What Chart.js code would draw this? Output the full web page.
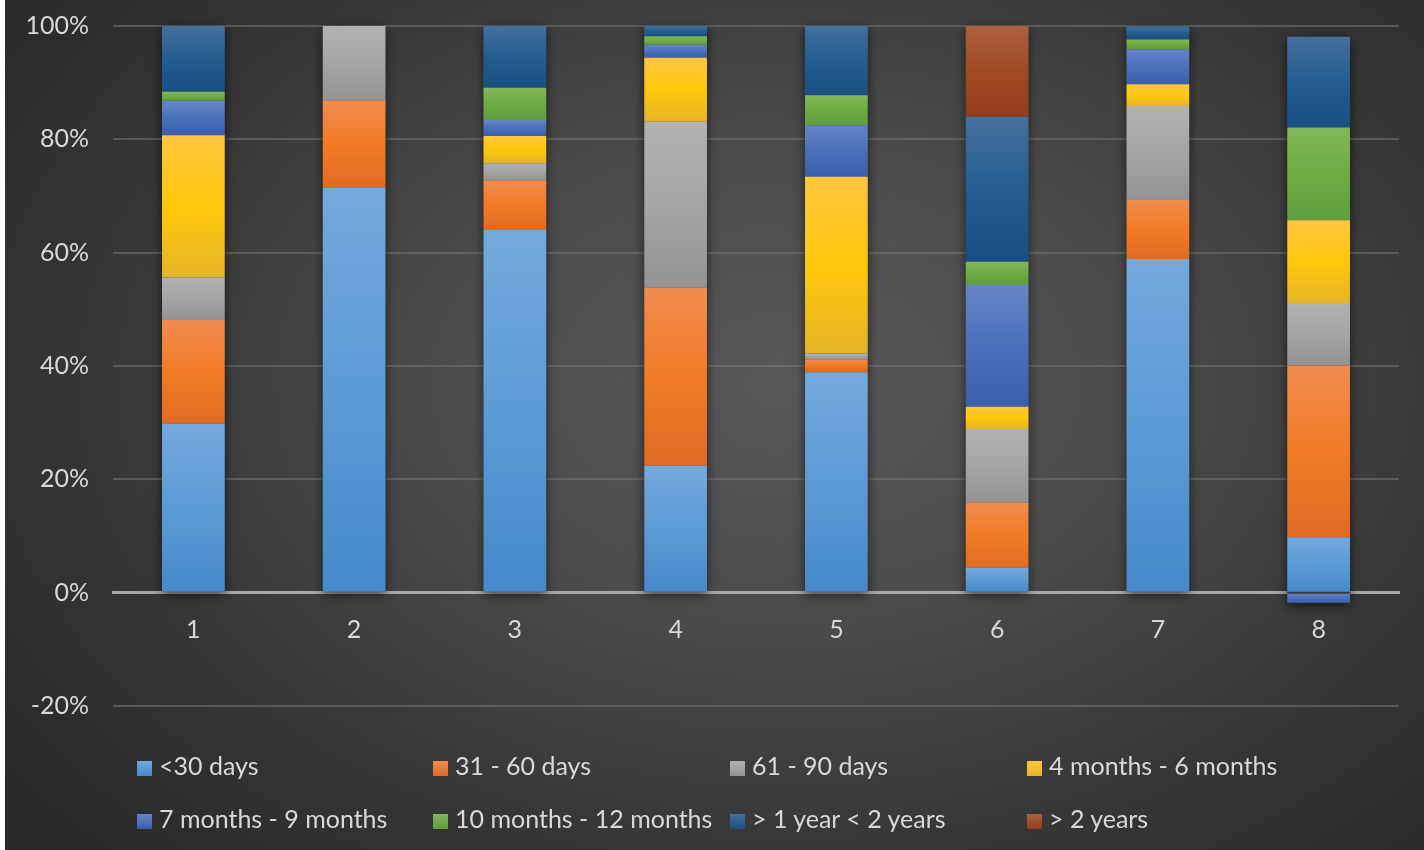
<!DOCTYPE html>
<html>
<head>
<meta charset="utf-8">
<script src="https://cdn.jsdelivr.net/npm/chart.js@4/dist/chart.umd.min.js"></script>
<style>
  html, body { margin: 0; padding: 0; background: #ffffff; }
  #wrap {
    position: absolute; left: 5px; top: 0; width: 1419px; height: 850px;
    background: radial-gradient(ellipse 70% 80% at 55% 45%, #585858 0%, #4b4b4b 35%, #333333 75%, #282828 100%);
    overflow: hidden;
  }
  #chart { position: absolute; left: 0; top: -13px; }
  .legend { position: absolute; font-family: Lato, sans-serif; font-size: 25px; color: #d9d9d9; white-space: nowrap; }
  .legend span.box { display: inline-block; width: 15px; height: 15px; margin-right: 7px; vertical-align: -1px; }
</style>
</head>
<body>
<div id="wrap">
  <canvas id="chart" width="1419" height="863"></canvas>
  <div id="legend"></div>
</div>
<script>
const categories = ["1", "2", "3", "4", "5", "6", "7", "8"];
const seriesNames = ["<30 days", "31 - 60 days", "61 - 90 days", "4 months - 6 months",
  "7 months - 9 months", "10 months - 12 months", "> 1 year < 2 years", "> 2 years"];

// percent of total
const under30 = [29.8, 71.4, 64.0, 22.4, 38.9, 4.4, 58.9, 9.8];
const days31to60 = [18.3, 15.5, 8.8, 31.4, 2.3, 11.5, 10.4, 30.3];
const days61to90 = [7.5, 13.1, 3.0, 29.3, 1.0, 13.0, 16.6, 11.0];
const months4to6 = [25.1, 0, 4.8, 11.3, 31.2, 3.9, 3.8, 14.6];
const months7to9 = [6.1, 0, 2.8, 2.3, 9.1, 21.5, 6.2, -1.8];
const months10to12 = [1.6, 0, 5.7, 1.5, 5.3, 4.1, 1.7, 16.4];
const year1to2 = [11.6, 0, 10.9, 1.8, 12.2, 25.6, 2.3, 16.0];
const over2years = [0, 0, 0, 0, 0, 16.0, 0, 0];

const yTicks = [-20, 0, 20, 40, 60, 80, 100];

const allValues = [under30, days31to60, days61to90, months4to6, months7to9, months10to12, year1to2, over2years];

// [top, middle, bottom] of each segment's gradient
const colors = [
  ["#74a9dd", "#5b9bd5", "#4589cb"],
  ["#f08c50", "#f27b24", "#e06a22"],
  ["#b2b2b2", "#a5a5a5", "#939393"],
  ["#ffc640", "#ffc80a", "#e4b428"],
  ["#6685c6", "#4a70bb", "#3a60ab"],
  ["#82b85a", "#6cac42", "#5f9e3e"],
  ["#45709c", "#235d91", "#184f84"],
  ["#ab6040", "#a04a22", "#953c1c"],
];

// work out where a segment starts/ends so it gets its own gradient
function segGradient(c, d) {
  const chart = c.chart;
  const y = chart.scales.y;
  if (c.type !== "data" || !y) return colors[d][1];
  const i = c.dataIndex;
  const v = allValues[d][i];
  let start = 0;
  for (let k = 0; k < d; k++) {
    const w = allValues[k][i];
    if ((v >= 0 && w > 0) || (v < 0 && w < 0)) start += w;
  }
  const top = y.getPixelForValue(Math.max(start, start + v));
  const bot = y.getPixelForValue(Math.min(start, start + v));
  if (!isFinite(top) || !isFinite(bot) || bot - top < 0.5) return colors[d][1];
  const g = chart.ctx.createLinearGradient(0, top, 0, bot);
  g.addColorStop(0, colors[d][0]);
  g.addColorStop(0.5, colors[d][1]);
  g.addColorStop(1, colors[d][2]);
  return g;
}

// soft drop shadow behind each whole stack
const barShadow = {
  id: "barShadow",
  beforeDatasetsDraw(chart) {
    const ctx = chart.ctx;
    ctx.save();
    ctx.shadowColor = "rgba(0,0,0,0.6)";
    ctx.shadowBlur = 10;
    ctx.shadowOffsetY = 3;
    ctx.fillStyle = "#3a3a3a";
    categories.forEach((cat, i) => {
      let top = Infinity, bot = -Infinity, x = 0, w = 0;
      chart.data.datasets.forEach((ds, d) => {
        const el = chart.getDatasetMeta(d).data[i];
        if (!el || ds.data[i] === 0) return;
        top = Math.min(top, el.y, el.base);
        bot = Math.max(bot, el.y, el.base);
        x = el.x;
        w = el.width;
      });
      if (top < bot) ctx.fillRect(x - w / 2, top, w, bot - top);
    });
    ctx.restore();
  },
};

const datasets = allValues.map((vals, d) => ({
  label: seriesNames[d],
  data: vals,
  backgroundColor: (c) => segGradient(c, d),
  borderWidth: 0,
  barPercentage: 0.39,
  categoryPercentage: 1,
}));

new Chart(document.getElementById("chart"), {
  type: "bar",
  data: { labels: categories, datasets },
  plugins: [barShadow],
  options: {
    responsive: false,
    animation: false,
    layout: { padding: { top: 14, right: 25, bottom: 144, left: 0 } },
    plugins: { legend: { display: false }, tooltip: { enabled: false } },
    scales: {
      x: {
        stacked: true,
        position: { y: 0 },
        grid: { display: false, drawTicks: false },
        border: { display: true, color: "#a8a8a8", width: 3 },
        ticks: { color: "#d9d9d9", font: { family: "Lato", size: 25 }, padding: 22 },
      },
      y: {
        stacked: true,
        min: -20,
        max: 100,
        afterBuildTicks: (s) => { s.ticks = yTicks.map((v) => ({ value: v })); },
        afterFit: (s) => { s.width = 108; },
        grid: { color: "rgba(120,120,120,0.55)", lineWidth: 2, drawTicks: false },
        border: { display: false },
        ticks: {
          color: "#d9d9d9",
          font: { family: "Lato", size: 25 },
          padding: 24,
          callback: (v) => v + "%",
        },
      },
    },
  },
});

// legend in a 4 x 2 grid like the original
const legend = document.getElementById("legend");
const colX = [132, 428, 725, 1022];
const rowY = [750, 803];
seriesNames.forEach((name, d) => {
  const item = document.createElement("div");
  item.className = "legend";
  item.style.left = colX[d % 4] + "px";
  item.style.top = rowY[Math.floor(d / 4)] + "px";
  const box = document.createElement("span");
  box.className = "box";
  box.style.background = `linear-gradient(${colors[d][0]}, ${colors[d][2]})`;
  item.append(box, document.createTextNode(name));
  legend.append(item);
});
</script>
</body>
</html>
